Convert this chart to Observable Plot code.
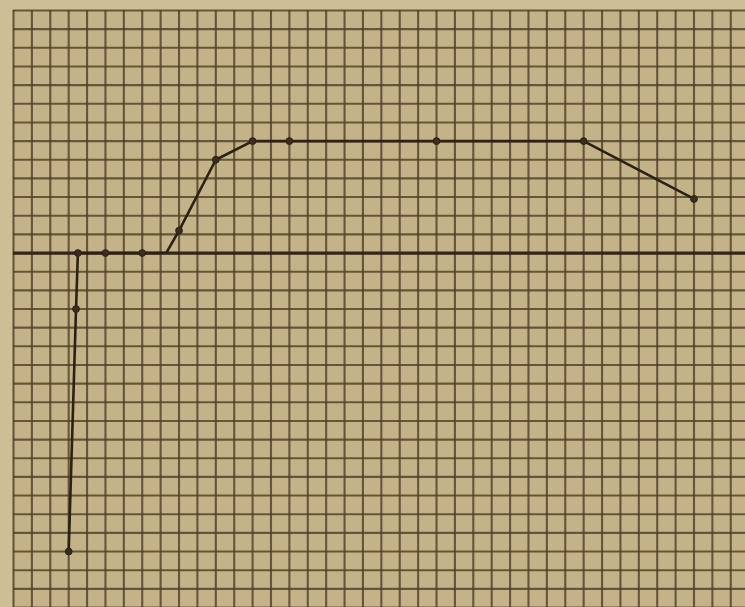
<!DOCTYPE html>
<html>
<head>
<meta charset="utf-8">
<script src="https://cdn.jsdelivr.net/npm/d3@7"></script>
<script src="https://cdn.jsdelivr.net/npm/@observablehq/plot@0.6"></script>
<style>
  html, body { margin: 0; padding: 0; background: #cdbe95; }
  svg { display: block; }
</style>
</head>
<body>
<div id="chart"></div>
<script>
// Values (grid units; y = 0 is the heavy baseline)
const xValues = [3, 3.4, 3.5, 5, 7, 8.3, 9, 11, 13, 15, 23, 31, 37];
const yValues = [-16, -3, 0, 0, 0, 0, 1.2, 5, 6, 6, 6, 6, 2.9];
const hasMarker = [true, true, true, true, true, false, true, true, true, true, true, true, true];

// Grid lines of the paper (one per unit)
const gridXTicks = d3.range(0, 40);
const gridYTicks = d3.range(-19, 14);

const points = xValues.map((x, i) => ({x, y: yValues[i], marker: hasMarker[i]}));

const chart = Plot.plot({
  width: 745,
  height: 607,
  marginLeft: 13,
  marginRight: 0,
  marginTop: 10,
  marginBottom: 0,
  x: {domain: [0, 39.8], axis: null},
  y: {domain: [-19, 13], axis: null},
  style: {background: "#cdbe95"},
  marks: [
    Plot.frame({fill: "#c4b388", stroke: null}),
    Plot.ruleX(gridXTicks, {stroke: "#4e3f25", strokeWidth: 2.1, strokeOpacity: 0.8}),
    Plot.ruleY(gridYTicks, {stroke: "#4e3f25", strokeWidth: 2.1, strokeOpacity: 0.8}),
    Plot.ruleY([0], {stroke: "#30261a", strokeWidth: 3.2}),
    Plot.line(points, {x: "x", y: "y", stroke: "#2b2115", strokeWidth: 2.6}),
    Plot.dot(points.filter(d => d.marker), {x: "x", y: "y", r: 3.4, fill: "#3a2e1e", stroke: "#2b2115", strokeWidth: 1})
  ]
});
document.getElementById("chart").appendChild(chart);
</script>
</body>
</html>
